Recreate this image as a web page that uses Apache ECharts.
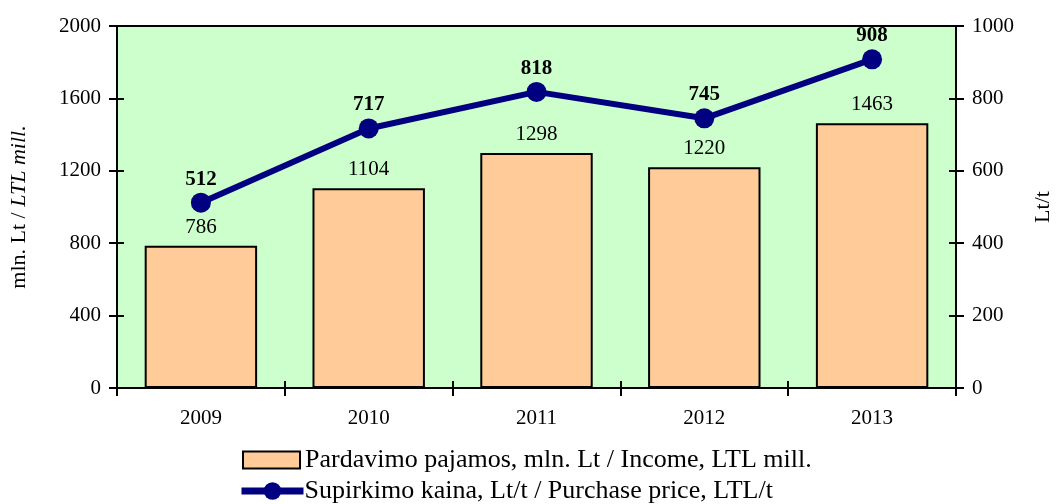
<!DOCTYPE html>
<html>
<head>
<meta charset="utf-8">
<script src="https://cdn.jsdelivr.net/npm/echarts@6/dist/echarts.min.js"></script>
<style>
  html, body { margin: 0; padding: 0; background: #ffffff; }
  #chart { width: 1058px; height: 504px; }
</style>
</head>
<body>
<div id="chart"></div>
<script>
// Years on the category axis
const years = ['2009', '2010', '2011', '2012', '2013'];
// Sales income, mln. Lt (left axis)
const income = [786, 1104, 1298, 1220, 1463];
// Purchase price, Lt/t (right axis)
const price = [512, 717, 818, 745, 908];
// Series names shown in the legend
const incomeName = 'Pardavimo pajamos, mln. Lt / Income, LTL mill.';
const priceName = 'Supirkimo kaina, Lt/t / Purchase price, LTL/t';

const FONT = '"Liberation Serif", "Times New Roman", serif';

const chart = echarts.init(document.getElementById('chart'), null, { renderer: 'canvas' });

const labelStyle = { color: '#000', fontFamily: FONT, fontSize: 21 };
const plain = v => String(v);
const tickStyle = { color: '#000', width: 2 };

const option = {
  animation: false,
  textStyle: { fontFamily: FONT, color: '#000' },
  grid: {
    left: 117, right: 102, top: 26, bottom: 116,
    containLabel: false, outerBoundsMode: 'none',
    show: true, backgroundColor: '#ccffcc', borderColor: '#000', borderWidth: 2
  },
  legend: [
    {
      left: 242, top: 447, padding: 0,
      itemWidth: 57, itemHeight: 17,
      textStyle: { fontFamily: FONT, fontSize: 26, color: '#000' },
      data: [{ name: incomeName, icon: 'rect', itemStyle: { borderColor: '#000', borderWidth: 2 } }]
    },
    {
      left: 238, top: 478, padding: 0,
      itemWidth: 62, itemHeight: 22, itemGap: 0,
      textStyle: { fontFamily: FONT, fontSize: 26, color: '#000', padding: [0, 0, 0, -4] },
      data: [{ name: priceName, lineStyle: { width: 7, color: '#000080' } }]
    }
  ],
  xAxis: [
    {
      type: 'category', data: years, boundaryGap: true,
      axisLine: { lineStyle: { color: '#000', width: 2 } },
      axisTick: { show: true, length: 8, lineStyle: tickStyle },
      axisLabel: Object.assign({ margin: 20 }, labelStyle)
    },
    {
      // inner half of the crossing ticks on the category axis
      type: 'category', data: years, boundaryGap: true, position: 'bottom',
      axisLine: { show: false },
      axisTick: { show: true, inside: true, length: 7, lineStyle: tickStyle },
      axisLabel: { show: false }
    }
  ],
  yAxis: [
    {
      type: 'value', min: 0, max: 2000, interval: 400, position: 'left',
      name: '{n|mln. Lt / }{i|LTL mill.}', nameLocation: 'middle', nameGap: 87, nameRotate: 90,
      nameTextStyle: {
        rich: {
          n: { fontFamily: FONT, fontSize: 22, color: '#000' },
          i: { fontFamily: FONT, fontSize: 22, color: '#000', fontStyle: 'italic' }
        }
      },
      axisLine: { show: true, lineStyle: { color: '#000', width: 2 } },
      axisTick: { show: true, length: 8, lineStyle: tickStyle },
      axisLabel: Object.assign({ margin: 16, formatter: plain }, labelStyle),
      splitLine: { show: false }
    },
    {
      type: 'value', min: 0, max: 1000, interval: 200, position: 'right',
      name: 'Lt/t', nameLocation: 'middle', nameGap: 76, nameRotate: 90,
      nameTextStyle: { fontFamily: FONT, fontSize: 22, color: '#000' },
      axisLine: { show: true, lineStyle: { color: '#000', width: 2 } },
      axisTick: { show: true, length: 8, lineStyle: tickStyle },
      axisLabel: Object.assign({ margin: 16, formatter: plain }, labelStyle),
      splitLine: { show: false }
    },
    {
      // inner half of the crossing ticks, left
      type: 'value', min: 0, max: 2000, interval: 400, position: 'left',
      axisLine: { show: false },
      axisTick: { show: true, inside: true, length: 7, lineStyle: tickStyle },
      axisLabel: { show: false }, splitLine: { show: false }
    },
    {
      // inner half of the crossing ticks, right
      type: 'value', min: 0, max: 1000, interval: 200, position: 'right',
      axisLine: { show: false },
      axisTick: { show: true, inside: true, length: 7, lineStyle: tickStyle },
      axisLabel: { show: false }, splitLine: { show: false }
    }
  ],
  series: [
    {
      name: incomeName, type: 'bar', data: income,
      xAxisIndex: 0, yAxisIndex: 0,
      barWidth: '67%',
      itemStyle: { color: '#ffcc99', borderColor: '#000', borderWidth: 2 },
      label: Object.assign({ show: true, position: 'top', distance: 8 }, labelStyle),
      z: 2
    },
    {
      name: priceName, type: 'line', data: price,
      xAxisIndex: 0, yAxisIndex: 1,
      symbol: 'circle', symbolSize: 20,
      lineStyle: { color: '#000080', width: 6 },
      itemStyle: { color: '#000080' },
      label: Object.assign({ show: true, position: 'top', distance: 3, fontWeight: 'bold' }, labelStyle),
      z: 5
    }
  ]
};

chart.setOption(option);
</script>
</body>
</html>
